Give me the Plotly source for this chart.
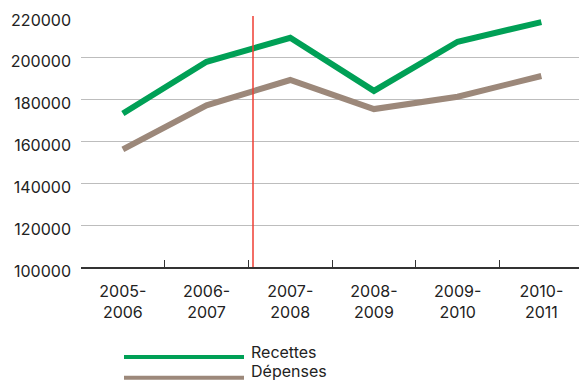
import plotly.graph_objects as go

# Fiscal years shown along the x axis
periods = ["2005-2006", "2006-2007", "2007-2008", "2008-2009", "2009-2010", "2010-2011"]
period_labels = ["2005-<br>2006", "2006-<br>2007", "2007-<br>2008",
                 "2008-<br>2009", "2009-<br>2010", "2010-<br>2011"]

# Yearly totals
recettes = [173400, 198100, 209600, 184200, 207700, 217100]
depenses = [156200, 177300, 189400, 175500, 181400, 191300]

y_ticks = [100000, 120000, 140000, 160000, 180000, 200000, 220000]

# Position of the vertical marker line (category index units)
marker_x = 1.555

GREEN = "#00A056"
TAUPE = "#9C887A"
RED = "#EF3E33"
FONT = "Inter"

fig = go.Figure()
fig.add_trace(go.Scatter(x=periods, y=recettes, mode="lines", name="Recettes",
                         line=dict(color=GREEN, width=6), showlegend=False))
fig.add_trace(go.Scatter(x=periods, y=depenses, mode="lines", name="Dépenses",
                         line=dict(color=TAUPE, width=6), showlegend=False))

# Vertical marker line across the plot
fig.add_shape(type="line", xref="x", yref="paper", x0=marker_x, x1=marker_x,
              y0=0, y1=1, line=dict(color=RED, width=1.5), layer="above")

# Custom legend with long swatches below the chart
plot_left, plot_w = 81, 498
plot_bottom, plot_h = 266.7, 250.7
def px_x(p):
    return (p - plot_left) / plot_w
def px_y(p):
    return (plot_bottom - p) / plot_h

legend_items = [("Recettes", GREEN, 356.7, 351.5), ("Dépenses", TAUPE, 377.3, 371.0)]
for name, color, ly, ty in legend_items:
    fig.add_shape(type="line", xref="paper", yref="paper",
                  x0=px_x(124), x1=px_x(244), y0=px_y(ly), y1=px_y(ly),
                  line=dict(color=color, width=4))
    fig.add_annotation(xref="paper", yref="paper", x=px_x(249), y=px_y(ty),
                       text=name, showarrow=False, xanchor="left", yanchor="middle",
                       font=dict(family=FONT, size=16, color="#222222"))

fig.update_layout(
    width=579, height=381,
    margin=dict(l=81, r=0, t=16, b=114.3),
    paper_bgcolor="white", plot_bgcolor="white",
    font=dict(family=FONT, size=16, color="#222222"),
)
fig.update_xaxes(
    type="category", range=[-0.5, 5.45],
    tickmode="array", tickvals=periods, ticktext=period_labels,
    tickson="boundaries", ticks="inside", ticklen=7, tickcolor="#333333", tickwidth=1,
    showline=True, linecolor="#333333", linewidth=1.5,
    showgrid=False, zeroline=False, ticklabelstandoff=9,
)
fig.update_yaxes(
    range=[100000, 220000], tickmode="array", tickvals=y_ticks, tickformat="d",
    showgrid=True, gridcolor="#BDBDBD", gridwidth=1.2,
    zeroline=False, showline=False, ticks="", ticklabelstandoff=9,
    ticklabelshift=4,
)

fig.write_html("out.html")
